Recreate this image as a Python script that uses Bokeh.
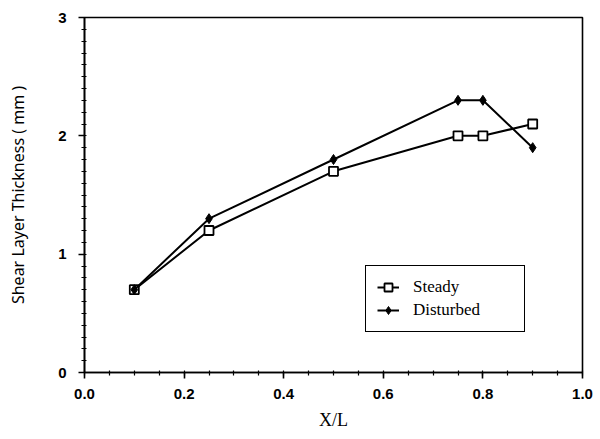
from bokeh.plotting import figure
from bokeh.models import FixedTicker, NumeralTickFormatter, Legend, LegendItem
from bokeh.embed import file_html
from bokeh.resources import INLINE

# Shear layer thickness along the plate
x_over_l = [0.1, 0.25, 0.5, 0.75, 0.8, 0.9]
steady = [0.7, 1.2, 1.7, 2.0, 2.0, 2.1]
disturbed = [0.7, 1.3, 1.8, 2.3, 2.3, 1.9]

x_ticks = [0.0, 0.2, 0.4, 0.6, 0.8, 1.0]
y_ticks = [0, 1, 2, 3]

p = figure(width=600, height=439, output_backend="svg", toolbar_location=None,
           x_range=(0.0, 1.0), y_range=(0, 3),
           min_border_left=84, min_border_right=18, min_border_top=17, min_border_bottom=67)
p.background_fill_color = "white"
p.border_fill_color = "white"
p.grid.visible = False
p.outline_line_color = "black"
p.outline_line_width = 1.6
p.outline_line_alpha = 1.0

p.xaxis.ticker = FixedTicker(ticks=x_ticks, minor_ticks=[i * 0.05 for i in range(21)])
p.yaxis.ticker = FixedTicker(ticks=y_ticks, minor_ticks=[i * 0.1 for i in range(31)])
p.xaxis.formatter = NumeralTickFormatter(format="0.0")

for ax in (p.xaxis[0], p.yaxis[0]):
    ax.axis_line_width = 1.6
    ax.axis_line_color = "black"
    ax.major_tick_line_width = 1.6
    ax.minor_tick_line_width = 1.2
    ax.major_tick_out = 6
    ax.major_tick_in = 0
    ax.minor_tick_out = 3
    ax.minor_tick_in = 2
    ax.major_label_text_font = "Liberation Sans"
    ax.major_label_text_font_size = "15px"
    ax.major_label_text_font_style = "bold"
    ax.major_label_text_color = "#000000"
    ax.axis_label_text_color = "#000000"
    ax.axis_label_text_font_style = "normal"

p.xaxis.axis_label = "X/L"
p.xaxis.axis_label_text_font = "Liberation Serif"
p.xaxis.axis_label_text_font_size = "18px"
p.xaxis.axis_label_standoff = 8
p.xaxis.major_label_standoff = 10

p.yaxis.axis_label = "Shear Layer Thickness ( mm )"
p.yaxis.axis_label_text_font = "Noto Sans"
p.yaxis.axis_label_text_font_size = "16px"
p.yaxis.axis_label_standoff = 26
p.yaxis.major_label_standoff = 12

l1 = p.line(x_over_l, steady, line_color="black", line_width=2)
s1 = p.scatter(x_over_l, steady, marker="square", size=9, fill_color="white",
               line_color="black", line_width=1.8)
l2 = p.line(x_over_l, disturbed, line_color="black", line_width=2)
s2 = p.scatter(x_over_l, disturbed, marker="diamond", size=10, fill_color="black",
               line_color="black", line_width=1)

legend = Legend(items=[LegendItem(label="Steady", renderers=[l1, s1]),
                       LegendItem(label="Disturbed", renderers=[l2, s2])],
                location=(281, 40))
legend.label_text_font = "Liberation Serif"
legend.label_text_font_size = "17px"
legend.label_text_color = "#000000"
legend.border_line_color = "black"
legend.border_line_alpha = 1.0
legend.border_line_width = 1.6
legend.glyph_width = 22
legend.padding = 11
legend.spacing = 3
legend.margin = 0
legend.label_standoff = 14
legend.label_width = 100
legend.background_fill_alpha = 1.0
p.add_layout(legend, "center")

open("out.html", "w").write(file_html(p, INLINE))
